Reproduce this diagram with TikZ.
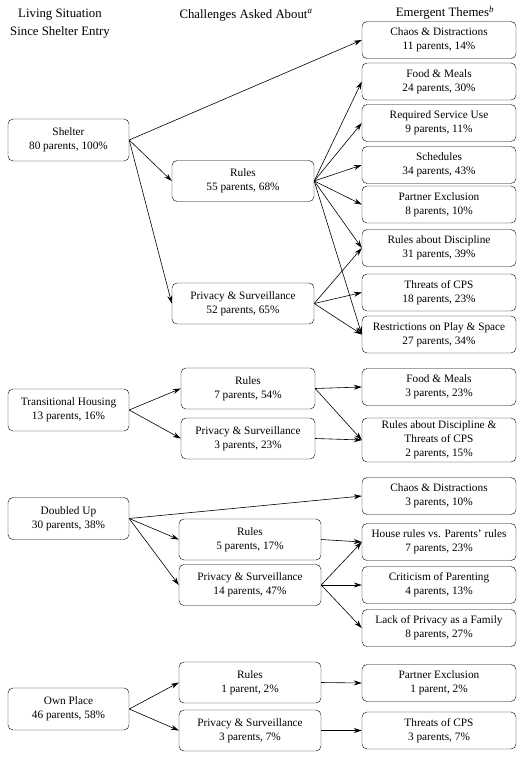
\documentclass[tikz,border=0pt]{standalone}
\usepackage{fontspec}
\setmainfont{Liberation Serif}
\usepackage{tikz}
\usetikzlibrary{arrows.meta}

\tikzset{
  situation/.style={draw, rounded corners=5pt, align=center, minimum width=121pt, minimum height=42pt, inner sep=2pt, font=\fontsize{11.3}{14}\selectfont},
  challenge/.style={draw, rounded corners=5pt, align=center, minimum width=142pt, minimum height=41pt, inner sep=2pt, font=\fontsize{11.3}{14}\selectfont},
  theme/.style={draw, rounded corners=5pt, align=center, minimum width=154pt, minimum height=37pt, inner sep=2pt, font=\fontsize{11.3}{14}\selectfont},
  heading/.style={align=center, inner sep=0pt, font=\fontsize{12.8}{18}\selectfont},
  link/.style={-{Stealth[length=8pt,width=5pt]}, line width=0.6pt}
}

\begin{document}
\begin{tikzpicture}[x=1pt,y=1pt,yscale=-1,xscale=1]
    \useasboundingbox (0,0) rectangle (532,761);

    \node [heading] (hsit) at (60,24) {Living Situation\\Since Shelter Entry};
    \node [heading] (hchal) at (246,15) {Challenges Asked About\textsuperscript{\textit{a}}};
    \node [heading] (htheme) at (445,13) {Emergent Themes\textsuperscript{\textit{b}}};

    \node [situation] (shelter) at (68.5,140) {Shelter\\80 parents, 100\%};
    \node [challenge] (srules) at (243,181) {Rules\\55 parents, 68\%};
    \node [challenge] (spriv) at (243,303.5) {Privacy \& Surveillance\\52 parents, 65\%};
    \node [theme] (schaos) at (439,40) {Chaos \& Distractions\\11 parents, 14\%};
    \node [theme] (sfood) at (439,81.5) {Food \& Meals\\24 parents, 30\%};
    \node [theme] (sserv) at (439,123) {Required Service Use\\9 parents, 11\%};
    \node [theme] (ssched) at (439,165) {Schedules\\34 parents, 43\%};
    \node [theme] (spart) at (439,204.5) {Partner Exclusion\\8 parents, 10\%};
    \node [theme] (sdisc) at (439,248) {Rules about Discipline\\31 parents, 39\%};
    \node [theme] (scps) at (439,292.5) {Threats of CPS\\18 parents, 23\%};
    \node [theme] (splay) at (439,334.5) {Restrictions on Play \& Space\\27 parents, 34\%};

    \node [situation] (trans) at (68.5,410) {Transitional Housing\\13 parents, 16\%};
    \node [challenge, minimum width=134pt] (trules) at (248,388.5) {Rules\\7 parents, 54\%};
    \node [challenge, minimum width=134pt] (tpriv) at (248,438.5) {Privacy \& Surveillance\\3 parents, 23\%};
    \node [theme] (tfood) at (439,387) {Food \& Meals\\3 parents, 23\%};
    \node [theme, minimum height=44pt] (tdisc) at (439,440) {Rules about Discipline \&\\Threats of CPS\\2 parents, 15\%};

    \node [situation] (doubled) at (68.5,518.5) {Doubled Up\\30 parents, 38\%};
    \node [challenge] (drules) at (250,539.5) {Rules\\5 parents, 17\%};
    \node [challenge] (dpriv) at (250,585) {Privacy \& Surveillance\\14 parents, 47\%};
    \node [theme] (dchaos) at (439,496) {Chaos \& Distractions\\3 parents, 10\%};
    \node [theme] (dhouse) at (439,542) {House rules vs. Parents' rules\\7 parents, 23\%};
    \node [theme] (dcrit) at (439,585) {Criticism of Parenting\\4 parents, 13\%};
    \node [theme] (dfam) at (439,628) {Lack of Privacy as a Family\\8 parents, 27\%};

    \node [situation] (own) at (68.5,709) {Own Place\\46 parents, 58\%};
    \node [challenge] (orules) at (250,682.5) {Rules\\1 parent, 2\%};
    \node [challenge] (opriv) at (250,730.5) {Privacy \& Surveillance\\3 parents, 7\%};
    \node [theme] (opart) at (439,683) {Partner Exclusion\\1 parent, 2\%};
    \node [theme] (ocps) at (439,730.5) {Threats of CPS\\3 parents, 7\%};

    \draw [link] (shelter.east) -- (schaos.west);
    \draw [link] (shelter.east) -- (srules.west);
    \draw [link] (shelter.east) -- (spriv.west);
    \foreach \t in {sfood,sserv,ssched,spart,sdisc,splay}
      \draw [link] (srules.east) -- (\t.west);
    \foreach \t in {sdisc,scps,splay}
      \draw [link] (spriv.east) -- (\t.west);

    \draw [link] (trans.east) -- (trules.west);
    \draw [link] (trans.east) -- (tpriv.west);
    \draw [link] (trules.east) -- (tfood.west);
    \draw [link] (trules.east) -- (tdisc.west);
    \draw [link] (tpriv.east) -- (tdisc.west);

    \draw [link] (doubled.east) -- (dchaos.west);
    \draw [link] (doubled.east) -- (drules.west);
    \draw [link] (doubled.east) -- (dpriv.west);
    \draw [link] (drules.east) -- (dhouse.west);
    \foreach \t in {dhouse,dcrit,dfam}
      \draw [link] (dpriv.east) -- (\t.west);

    \draw [link] (own.east) -- (orules.west);
    \draw [link] (own.east) -- (opriv.west);
    \draw [link] (orules.east) -- (opart.west);
    \draw [link] (opriv.east) -- (ocps.west);
\end{tikzpicture}
\end{document}
